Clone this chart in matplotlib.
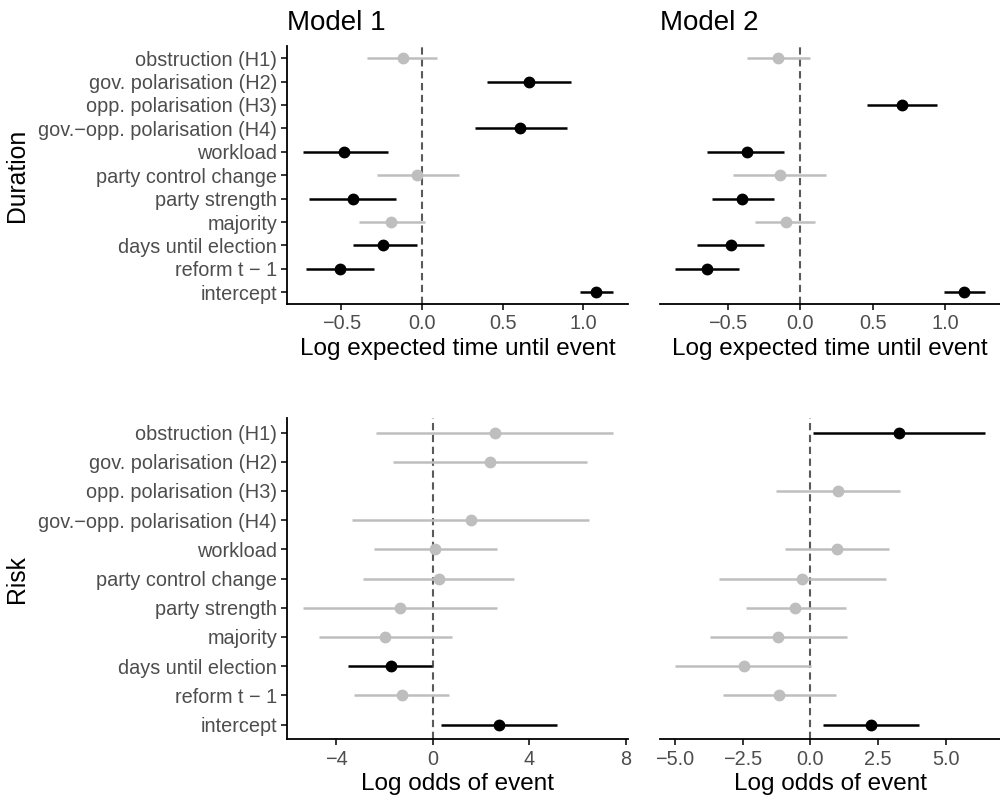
import numpy as np
import matplotlib
matplotlib.use("Agg")
import matplotlib.pyplot as plt
from matplotlib.ticker import FixedLocator

plt.rcParams['font.family'] = ['Liberation Sans', 'DejaVu Sans']

terms = ["obstruction (H1)", "gov. polarisation (H2)", "opp. polarisation (H3)",
         "gov.\u2212opp. polarisation (H4)", "workload", "party control change",
         "party strength", "majority", "days until election", "reform t \u2212 1",
         "intercept"]
nan = np.nan

# Duration model (log expected time until event)
dur1_est = [-0.12, 0.66, nan, 0.61, -0.48, -0.03, -0.43, -0.19, -0.24, -0.51, 1.08]
dur1_lo = [-0.34, 0.40, nan, 0.33, -0.74, -0.28, -0.70, -0.39, -0.43, -0.72, 0.98]
dur1_hi = [0.09, 0.92, nan, 0.90, -0.21, 0.23, -0.16, 0.02, -0.03, -0.30, 1.18]

dur2_est = [-0.15, nan, 0.70, nan, -0.37, -0.14, -0.40, -0.10, -0.48, -0.64, 1.13]
dur2_lo = [-0.37, nan, 0.46, nan, -0.64, -0.46, -0.61, -0.31, -0.71, -0.86, 0.99]
dur2_hi = [0.07, nan, 0.94, nan, -0.11, 0.18, -0.18, 0.10, -0.25, -0.42, 1.27]

# Risk model (log odds of event)
risk1_est = [2.57, 2.36, nan, 1.57, 0.10, 0.25, -1.36, -1.96, -1.75, -1.28, 2.73]
risk1_lo = [-2.34, -1.64, nan, -3.34, -2.44, -2.91, -5.40, -4.72, -3.50, -3.27, 0.33]
risk1_hi = [7.45, 6.39, nan, 6.48, 2.66, 3.35, 2.66, 0.80, -0.04, 0.69, 5.17]

risk2_est = [3.27, nan, 1.03, nan, 0.97, -0.32, -0.58, -1.18, -2.46, -1.14, 2.24]
risk2_lo = [0.09, nan, -1.28, nan, -0.94, -3.39, -2.39, -3.70, -4.98, -3.24, 0.45]
risk2_hi = [6.43, nan, 3.30, nan, 2.90, 2.78, 1.31, 1.35, 0.04, 0.93, 4.01]

top_ticks = [-0.5, 0.0, 0.5, 1.0]
top_ticklabels = ["\u22120.5", "0.0", "0.5", "1.0"]
bl_ticks = [-4, 0, 4, 8]
bl_ticklabels = ["\u22124", "0", "4", "8"]
br_ticks = [-5, -2.5, 0, 2.5, 5]
br_ticklabels = ["\u22125.0", "\u22122.5", "0.0", "2.5", "5.0"]

fig = plt.figure(figsize=(10, 8), dpi=100)

pos = {
    "tl": [0.287, 0.620, 0.341, 0.322],
    "tr": [0.660, 0.620, 0.340, 0.322],
    "bl": [0.287, 0.076, 0.341, 0.4015],
    "br": [0.660, 0.076, 0.340, 0.4015],
}

def draw(ax, est, lo, hi, ticks, ticklabels, xlabel, show_y):
    est = np.array(est); lo = np.array(lo); hi = np.array(hi)
    y = np.arange(len(terms))
    ax.axvline(0, color='#5a5a5a', ls=(0, (3.5, 2.2)), lw=1.5, zorder=1)
    for i in range(len(terms)):
        if np.isnan(est[i]):
            continue
        sig = lo[i] > 0 or hi[i] < 0
        col = 'black' if sig else '#bebebe'
        ax.plot([lo[i], hi[i]], [y[i], y[i]], color=col, lw=1.8, zorder=2,
                solid_capstyle='butt')
        ax.plot(est[i], y[i], 'o', color=col, ms=7.5, zorder=3)
    dmin = np.nanmin(np.append(lo, 0)); dmax = np.nanmax(np.append(hi, 0))
    pad = 0.05 * (dmax - dmin)
    ax.set_xlim(dmin - pad, dmax + pad)
    ax.set_ylim(len(terms) - 1 + 0.5, -0.5)
    ax.xaxis.set_major_locator(FixedLocator(ticks))
    ax.set_xticklabels(ticklabels)
    ax.set_xlabel(xlabel, fontsize=17.5, labelpad=3)
    for s in ['top', 'right']:
        ax.spines[s].set_visible(False)
    ax.spines['bottom'].set_linewidth(1.3)
    ax.spines['left'].set_linewidth(1.3)
    ax.tick_params(axis='x', labelsize=14.3, labelcolor='#4d4d4d', width=1.1,
                   length=4, pad=3.5)
    if show_y:
        ax.set_yticks(y)
        ax.set_yticklabels(terms)
        ax.tick_params(axis='y', labelsize=14.3, labelcolor='#4d4d4d', width=1.1,
                       length=4, pad=3)
    else:
        ax.spines['left'].set_visible(False)
        ax.set_yticks([])

ax_tl = fig.add_axes(pos["tl"])
draw(ax_tl, dur1_est, dur1_lo, dur1_hi, top_ticks, top_ticklabels,
     "Log expected time until event", True)
ax_tr = fig.add_axes(pos["tr"])
draw(ax_tr, dur2_est, dur2_lo, dur2_hi, top_ticks, top_ticklabels,
     "Log expected time until event", False)
ax_bl = fig.add_axes(pos["bl"])
draw(ax_bl, risk1_est, risk1_lo, risk1_hi, bl_ticks, bl_ticklabels,
     "Log odds of event", True)
ax_br = fig.add_axes(pos["br"])
draw(ax_br, risk2_est, risk2_lo, risk2_hi, br_ticks, br_ticklabels,
     "Log odds of event", False)

fig.text(0.287, 0.9625, "Model 1", fontsize=20, ha='left', va='baseline')
fig.text(0.660, 0.9625, "Model 2", fontsize=20, ha='left', va='baseline')
fig.text(0.0167, 0.620 + 0.322 / 2, "Duration", fontsize=17.8, rotation=90,
         ha='center', va='center')
fig.text(0.0167, 0.076 + 0.4015 / 2, "Risk", fontsize=17.8, rotation=90,
         ha='center', va='center')

fig.savefig("out.png", dpi=100)
